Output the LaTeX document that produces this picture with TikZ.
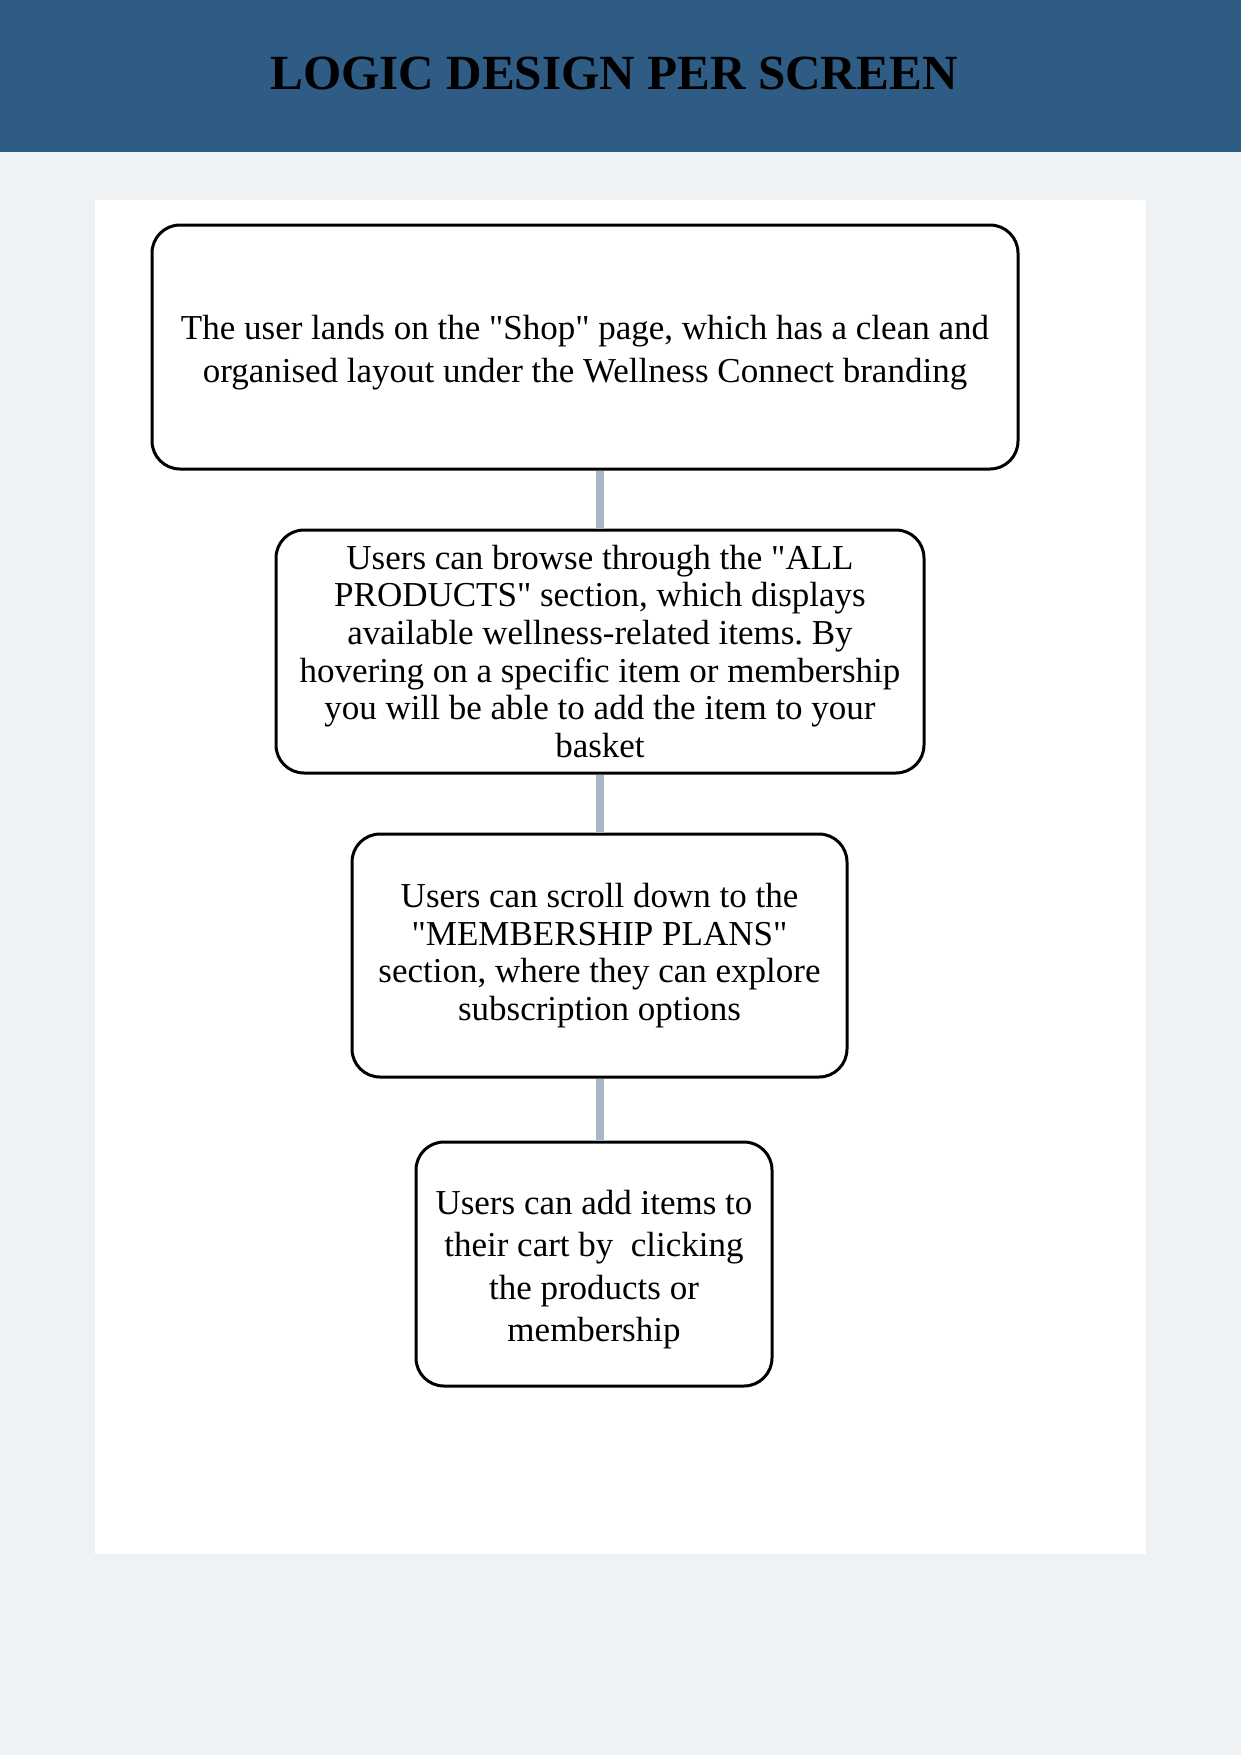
\documentclass[tikz,border=0pt]{standalone}
\usepackage{fontspec}
\setmainfont{Liberation Serif}
\frenchspacing
\definecolor{headerblue}{HTML}{2E5C84}
\definecolor{pagebg}{HTML}{EEF2F5}
\definecolor{connclr}{HTML}{A9B6C5}
\newcommand{\qq}{\textquotedbl}
\tikzset{
  stepbox/.style={draw=black, line width=1.8pt, fill=white, rounded corners=16.8pt,
    inner sep=0pt, align=center, text=black},
  widespace/.style={font={\fontsize{21}{25.5}\selectfont}},
  narrowspace/.style={font={\fontsize{21}{22.6}\selectfont}},
  conn/.style={draw=connclr, line width=4.8pt}
}
\begin{document}
\begin{tikzpicture}[x=0.6pt,y=-0.6pt]
\useasboundingbox (0,0) rectangle (1241,1755);
\fill[pagebg] (0,0) rectangle (1241,1755);
\fill[headerblue] (0,0) rectangle (1241,152);
\fill[white] (95,200) rectangle (1146,1554);
\node[anchor=base, font={\fontsize{29.5}{36}\selectfont\bfseries}] (title) at (614,89) {LOGIC DESIGN PER SCREEN};

\node[stepbox, widespace, minimum width=519.6pt, minimum height=146.4pt] (b1) at (585,347)
  {\rule{0pt}{21.5pt}The user lands on the \qq Shop\qq{} page, which has a clean and\\organised layout under the Wellness Connect branding};
\node[stepbox, narrowspace, minimum width=388.8pt, minimum height=145.8pt] (b2) at (600,651.5)
  {Users can browse through the \qq ALL\\PRODUCTS\qq{} section, which displays\\available wellness-related items. By\\hovering on a specific item or membership\\you will be able to add the item to your\\basket};
\node[stepbox, narrowspace, minimum width=297pt, minimum height=145.8pt] (b3) at (599.5,955.5)
  {Users can scroll down to the\\\qq MEMBERSHIP PLANS\qq\\section, where they can explore\\subscription options};
\node[stepbox, widespace, minimum width=213.6pt, minimum height=146.4pt] (b4) at (594,1264)
  {\rule{0pt}{21.5pt}Users can add items to\\their cart by\ \ clicking\\the products or\\membership};

\draw[conn] (b1.south -| b2.north) -- (b2.north);
\draw[conn] (b2.south) -- (b2.south |- b3.north);
\draw[conn] (b3.south) -- (b3.south |- b4.north);
\end{tikzpicture}
\end{document}
